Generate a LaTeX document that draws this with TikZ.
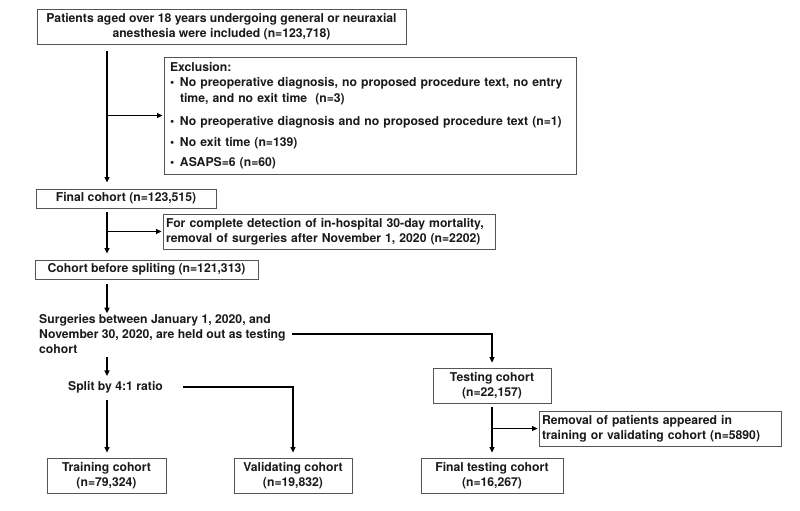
\documentclass[tikz,border=0pt]{standalone}
\usepackage{fontspec}
\setmainfont{TeX Gyre Heros}
\usetikzlibrary{arrows.meta}
\definecolor{boxgray}{HTML}{555555}
\definecolor{txt}{HTML}{1A1A1A}
\begin{document}
\begin{tikzpicture}[x=1pt,y=-1pt,
 every node/.style={font=\fontsize{12.2}{15}\selectfont\bfseries, inner sep=0pt, text=txt},
 box/.style={draw=boxgray, line width=0.8pt, align=center},
 lbox/.style={draw=boxgray, line width=0.8pt, align=left, inner xsep=3pt},
 arr/.style={line width=1.2pt, -{Triangle[length=5.5pt,width=5pt]}},
 ln/.style={line width=1.2pt}]
\useasboundingbox (0,0) rectangle (800,511);
\coordinate (trunk) at (107,0);
\coordinate (ttrunk) at (492,0);

\node[box, minimum width=369pt, minimum height=35pt] (b1) at (221.5,26.5)
  {Patients aged over 18 years undergoing general or neuraxial\\anesthesia were included (n=123,718)};

\node[lbox, inner xsep=6pt, text width=400pt, minimum height=117pt] (excl) at (370,115.5)
  {Exclusion:\\
   \makebox[10pt][l]{\textbullet}No preoperative diagnosis, no proposed procedure text, no entry\\[1pt]
   \hphantom{\makebox[10pt][l]{\textbullet}}time, and no exit time\ \ (n=3)\\[8pt]
   \makebox[10pt][l]{\textbullet}No preoperative diagnosis and no proposed procedure text (n=1)\\[6pt]
   \makebox[10pt][l]{\textbullet}No exit time (n=139)\\[5pt]
   \makebox[10pt][l]{\textbullet}ASAPS=6 (n=60)};

\node[box, minimum width=180pt, minimum height=19pt] (final) at (126,198.5) {Final cohort (n=123,515)};

\node[lbox, text width=326pt, minimum height=35pt] (rem1) at (329,231.5)
  {For complete detection of in-hospital 30-day mortality,\\removal of surgeries after November 1, 2020 (n=2202)};

\node[box, minimum width=223pt, minimum height=19pt] (cohort) at (146.5,269.5) {Cohort before spliting (n=121,313)};

\node[align=left, anchor=west] (surg) at (39,334)
  {Surgeries between January 1, 2020, and\\November 30, 2020, are held out as testing\\cohort};

\node (split) at (115.5,387) {Split by 4:1 ratio};

\node[box, minimum width=118pt, minimum height=35pt] (testing) at (492,385.5) {Testing cohort\\(n=22,157)};
\node[lbox, text width=236pt, minimum height=35pt] (rem2) at (660,428.5)
  {Removal of patients appeared in\\training or validating cohort (n=5890)};

\node[box, minimum width=119pt, minimum height=35pt] (train) at (106.5,475.5) {Training cohort\\(n=79,324)};
\node[box, minimum width=118pt, minimum height=35pt] (valid) at (293,475.5) {Validating cohort\\(n=19,832)};
\node[box, minimum width=142pt, minimum height=35pt] (ftest) at (492,475.5) {Final testing cohort\\(n=16,267)};

% connectors
\draw[arr, shorten <=7pt, shorten >=6pt] (b1.south -| trunk) -- (final.north -| trunk);
\draw[arr, shorten >=1pt] (excl.west -| trunk) -- (excl.west);
\draw[arr, shorten <=4pt, shorten >=6pt] (final.south -| trunk) -- (cohort.north -| trunk);
\draw[arr, shorten >=1pt] (rem1.west -| trunk) -- (rem1.west);
\draw[arr, shorten <=5pt, shorten >=1pt] (cohort.south -| trunk) -- (surg.north -| trunk);
\draw[arr, shorten <=3pt, shorten >=5pt] (surg.south -| trunk) -- (split.north -| trunk);
\draw[arr, shorten <=6pt, shorten >=5pt] (surg.east) -| (testing.north);
\draw[arr, shorten <=7pt, shorten >=5pt] (split.south -| trunk) -- (train.north -| trunk);
\draw[arr, shorten <=20pt, shorten >=5pt] (split.east) -| (valid.north);
\draw[arr, shorten <=4pt, shorten >=5pt] (testing.south -| ttrunk) -- (ftest.north -| ttrunk);
\draw[arr, shorten >=1pt] (rem2.west -| ttrunk) -- (rem2.west);
\end{tikzpicture}
\end{document}
